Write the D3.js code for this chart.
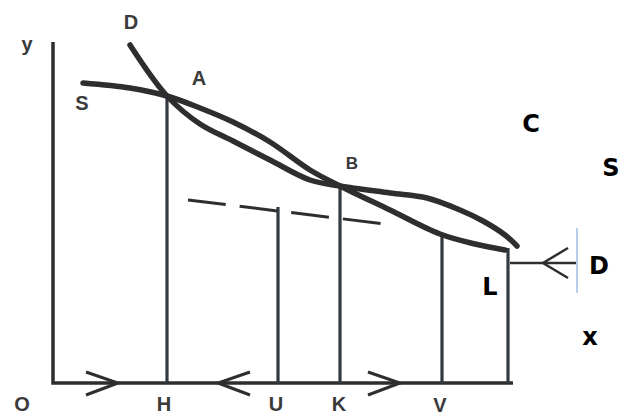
<!DOCTYPE html>
<html>
<head>
<meta charset="utf-8">
<script src="https://cdn.jsdelivr.net/npm/d3@7"></script>
<style>
  html, body { margin: 0; padding: 0; background: #fff; }
  svg { display: block; }
</style>
</head>
<body>
<svg width="623" height="416"></svg>
<script>
// curve points, measured from O (x right, y up)
const curveS = [[30,300],[77,295],[114,287],[147,275],[180,261],[217,241],[257,213],[287,197],[337,173],[387,149],[422,139],[452,133]];
const curveD = [[77,338],[114,287],[147,259],[180,242],[217,223],[257,203],[287,197],[337,190],[374,185],[407,173],[430,162],[452,148],[464,137]];
// vertical drop lines: [x, top]
const drops = [[114,287],[225,176],[287,197],[389,149],[455,135]];
const dashLine = [[135,183],[340,158]];
// arrows on the x axis: [tip x, direction]
const axisArrows = [[65,1],[165,-1],[347,1]];
const sideArrow = { from: 457, to: 524, y: 120, tip: 490 };
const scanLabels = [["y",-26,339],["D",78,361],["A",146,305],["S",29,280],["B",299,220],
                    ["O",-31,-21],["H",111,-21],["U",223,-21],["K",286,-21],["V",387,-22]];
const pasteLabels = [["C",478,259],["S",558,215],["D",546,117],["L",437,96],["x",537,46]];

const svg = d3.select("svg");
const x = d3.scaleLinear().domain([0, 570]).range([53, 623]);
const y = d3.scaleLinear().domain([0, 341]).range([383, 42]);
const ink = "#2e2e2e";

const line = d3.line().x(d => x(d[0])).y(d => y(d[1])).curve(d3.curveCatmullRom.alpha(0.5));
const straight = d3.line().x(d => x(d[0])).y(d => y(d[1]));

// axes
svg.append("path").attr("d", straight([[0,341],[0,0],[460,0]]))
  .attr("fill", "none").attr("stroke", ink).attr("stroke-width", 3.5)
  .attr("stroke-linejoin", "miter");

axisArrows.forEach(([t, dir]) => {
  svg.append("path")
    .attr("d", straight([[t - dir*32, 11],[t, 0],[t - dir*32, -12]]))
    .attr("fill", "none").attr("stroke", ink).attr("stroke-width", 3);
});

// drop lines
svg.selectAll(".drop").data(drops).enter().append("line")
  .attr("x1", d => x(d[0])).attr("x2", d => x(d[0]))
  .attr("y1", d => y(d[1])).attr("y2", y(0))
  .attr("stroke", "#333a44").attr("stroke-width", 3.2);

// dashed line
svg.append("path").attr("d", straight(dashLine))
  .attr("fill", "none").attr("stroke", ink).attr("stroke-width", 3)
  .attr("stroke-dasharray", "38,14");

// curves
[curveS, curveD].forEach(c => {
  svg.append("path").attr("d", line(c))
    .attr("fill", "none").attr("stroke", ink).attr("stroke-width", 5.5)
    .attr("stroke-linecap", "round");
});

// side arrow at right
svg.append("line")
  .attr("x1", x(sideArrow.from)).attr("x2", x(sideArrow.to))
  .attr("y1", y(sideArrow.y)).attr("y2", y(sideArrow.y))
  .attr("stroke", ink).attr("stroke-width", 2.5);
svg.append("path")
  .attr("d", straight([[sideArrow.tip + 25, sideArrow.y + 15],[sideArrow.tip, sideArrow.y],[sideArrow.tip + 25, sideArrow.y - 15]]))
  .attr("fill", "none").attr("stroke", ink).attr("stroke-width", 2.5);
svg.append("line")
  .attr("x1", x(sideArrow.to)).attr("x2", x(sideArrow.to))
  .attr("y1", y(sideArrow.y + 35)).attr("y2", y(sideArrow.y - 30))
  .attr("stroke", "#b8cde8").attr("stroke-width", 2);

// labels
svg.selectAll(".scan").data(scanLabels).enter().append("text")
  .attr("x", d => x(d[1])).attr("y", d => y(d[2]))
  .attr("text-anchor", "middle").attr("dominant-baseline", "central")
  .attr("font-family", "Liberation Sans, Arial, sans-serif")
  .attr("font-weight", "bold").attr("font-size", d => d[0] === "B" ? 17 : 20)
  .attr("fill", "#3a3a3a")
  .text(d => d[0]);

svg.selectAll(".paste").data(pasteLabels).enter().append("text")
  .attr("x", d => x(d[1])).attr("y", d => y(d[2]))
  .attr("text-anchor", "middle").attr("dominant-baseline", "central")
  .attr("font-family", "DejaVu Sans, sans-serif")
  .attr("font-weight", "bold").attr("font-size", 24)
  .attr("fill", "#000")
  .text(d => d[0]);
</script>
</body>
</html>
